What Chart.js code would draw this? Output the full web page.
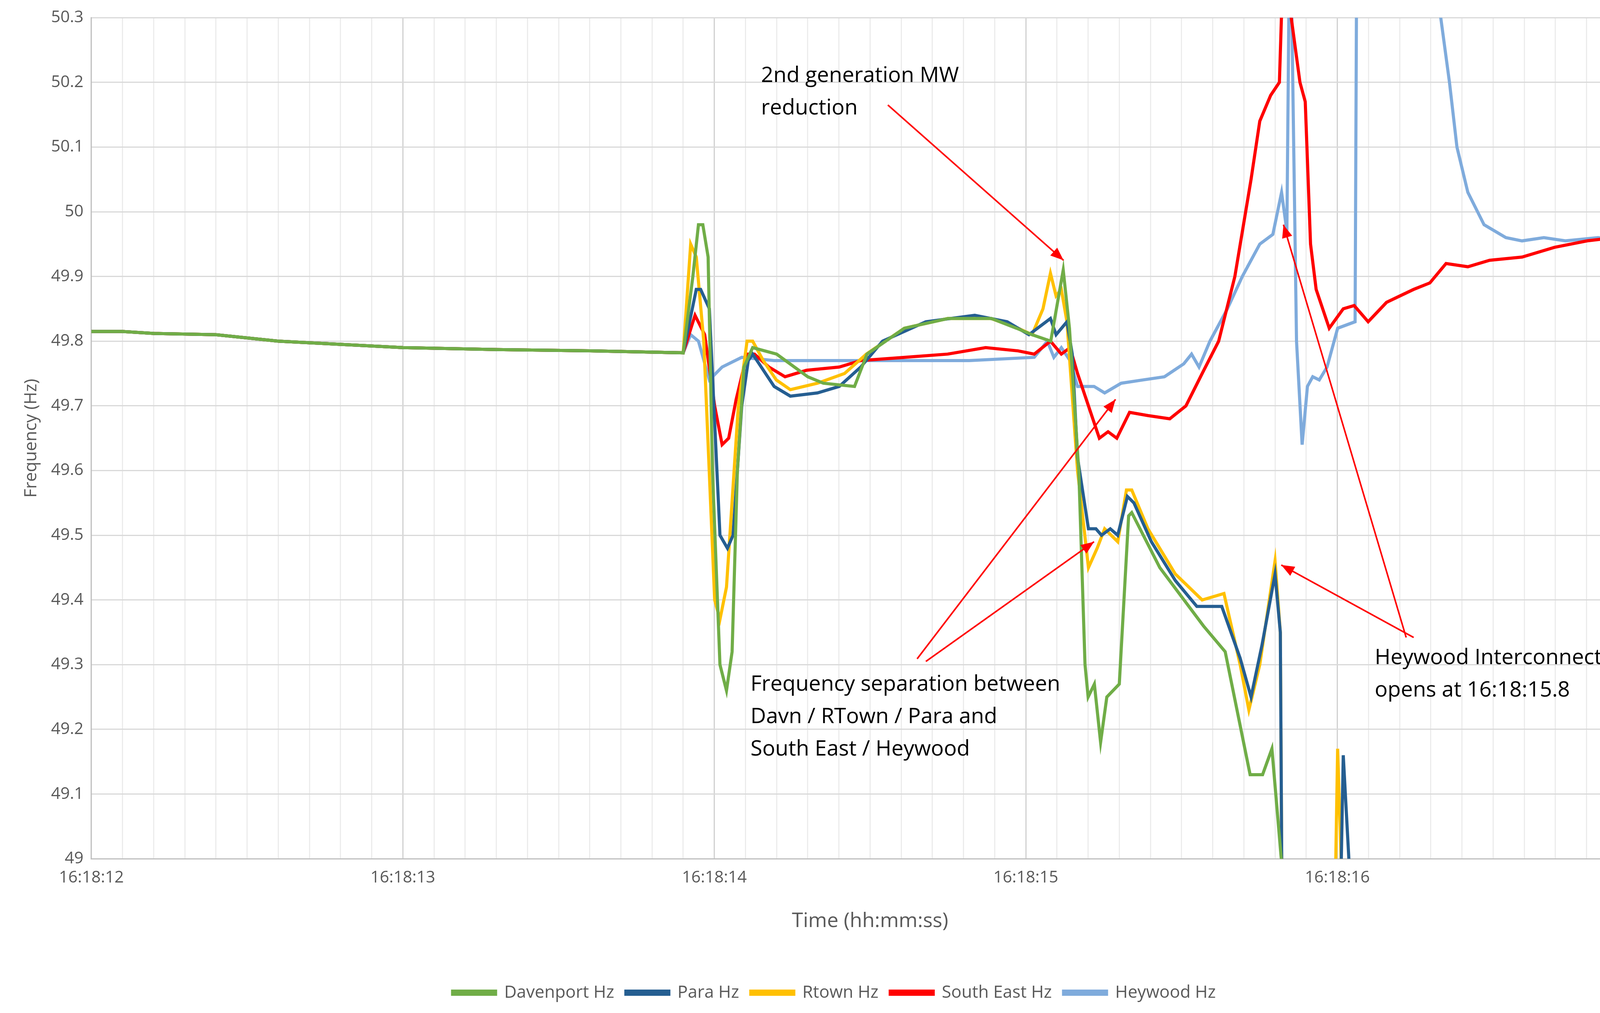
<!DOCTYPE html>
<html>
<head>
<meta charset="utf-8">
<script src="https://cdn.jsdelivr.net/npm/chart.js@4"></script>
<style>
  html, body { margin: 0; padding: 0; background: #fff; }
  canvas { display: block; }
</style>
</head>
<body>
<canvas id="freqChart" width="4331" height="2593"></canvas>
<script>
// time = seconds after 16:18:12, value = Hz
const leadT = [0, 0.1, 0.2, 0.4, 0.6, 0.8, 1.0, 1.3, 1.6, 1.9];
const leadV = [49.815, 49.815, 49.812, 49.81, 49.80, 49.795, 49.79, 49.787, 49.785, 49.782];

const davenportT = [1.931, 1.949, 1.963, 1.980, 1.994, 2.018, 2.039, 2.057, 2.074, 2.095, 2.123, 2.2, 2.3, 2.35, 2.45, 2.49, 2.61, 2.75, 2.89, 2.97, 3.02, 3.08, 3.12, 3.14, 3.17, 3.19, 3.20, 3.22, 3.24, 3.26, 3.30, 3.33, 3.34, 3.43, 3.57, 3.64, 3.72, 3.76, 3.79, 3.82, 3.825];
const davenportV = [49.90, 49.98, 49.98, 49.93, 49.6, 49.3, 49.26, 49.32, 49.6, 49.76, 49.79, 49.78, 49.745, 49.735, 49.73, 49.78, 49.82, 49.835, 49.835, 49.82, 49.81, 49.80, 49.91, 49.82, 49.6, 49.3, 49.25, 49.27, 49.18, 49.25, 49.27, 49.53, 49.535, 49.45, 49.36, 49.32, 49.13, 49.13, 49.17, 49.0, 48.8];

const paraT = [1.942, 1.956, 1.984, 2.018, 2.042, 2.060, 2.088, 2.109, 2.123, 2.192, 2.244, 2.331, 2.401, 2.470, 2.540, 2.679, 2.836, 2.940, 3.010, 3.079, 3.097, 3.132, 3.149, 3.166, 3.201, 3.225, 3.243, 3.271, 3.295, 3.326, 3.347, 3.403, 3.480, 3.549, 3.629, 3.688, 3.723, 3.758, 3.800, 3.817, 3.824, null, 4.005, 4.019, 4.037, 4.043];
const paraV = [49.88, 49.88, 49.85, 49.5, 49.48, 49.5, 49.7, 49.77, 49.78, 49.73, 49.715, 49.72, 49.73, 49.76, 49.80, 49.83, 49.84, 49.83, 49.81, 49.835, 49.81, 49.83, 49.78, 49.62, 49.51, 49.51, 49.50, 49.51, 49.50, 49.56, 49.55, 49.49, 49.43, 49.39, 49.39, 49.31, 49.25, 49.33, 49.44, 49.35, 48.8, null, 48.8, 49.16, 49.0, 48.8];

const rtownT = [1.924, 1.942, 1.966, 2.001, 2.018, 2.039, 2.077, 2.105, 2.123, 2.157, 2.199, 2.244, 2.331, 2.418, 2.488, 2.610, 2.749, 2.888, 2.975, 3.020, 3.055, 3.079, 3.097, 3.114, 3.132, 3.166, 3.201, 3.229, 3.253, 3.295, 3.323, 3.340, 3.392, 3.480, 3.566, 3.636, 3.688, 3.716, 3.751, 3.800, 3.817, 3.824, null, 3.988, 4.001, 4.012, 4.019];
const rtownV = [49.95, 49.93, 49.8, 49.4, 49.37, 49.42, 49.7, 49.8, 49.80, 49.77, 49.74, 49.725, 49.735, 49.75, 49.78, 49.82, 49.835, 49.835, 49.82, 49.81, 49.85, 49.905, 49.87, 49.88, 49.83, 49.60, 49.45, 49.48, 49.51, 49.49, 49.57, 49.57, 49.51, 49.44, 49.40, 49.41, 49.30, 49.23, 49.30, 49.46, 49.35, 48.8, null, 48.8, 49.17, 49.0, 48.8];

const southEastT = [1.938, 1.969, 2.001, 2.025, 2.046, 2.070, 2.105, 2.129, 2.175, 2.227, 2.296, 2.401, 2.470, 2.610, 2.749, 2.871, 2.975, 3.027, 3.079, 3.114, 3.142, 3.166, 3.201, 3.236, 3.264, 3.292, 3.333, 3.392, 3.462, 3.514, 3.566, 3.619, 3.671, 3.723, 3.751, 3.786, 3.814, 3.827, 3.852, 3.880, 3.897, 3.914, 3.932, 3.974, 4.019, 4.054, 4.099, 4.158, 4.245, 4.297, 4.349, 4.419, 4.489, 4.593, 4.697, 4.802, 4.889, 4.941, 5.0];
const southEastV = [49.84, 49.81, 49.70, 49.64, 49.65, 49.71, 49.78, 49.78, 49.76, 49.745, 49.755, 49.76, 49.77, 49.775, 49.78, 49.79, 49.785, 49.78, 49.80, 49.78, 49.79, 49.75, 49.70, 49.65, 49.66, 49.65, 49.69, 49.685, 49.68, 49.70, 49.75, 49.80, 49.90, 50.05, 50.14, 50.18, 50.20, 50.40, 50.30, 50.20, 50.17, 49.95, 49.88, 49.82, 49.85, 49.855, 49.83, 49.86, 49.88, 49.89, 49.92, 49.915, 49.925, 49.93, 49.945, 49.955, 49.96, 49.95, 49.95];

const heywoodT = [1.924, 1.949, 1.984, 2.025, 2.088, 2.192, 2.470, 2.818, 3.027, 3.069, 3.090, 3.114, 3.142, 3.166, 3.219, 3.253, 3.306, 3.375, 3.445, 3.507, 3.532, 3.556, 3.591, 3.647, 3.695, 3.751, 3.793, 3.821, 3.838, 3.848, 3.869, 3.887, 3.904, 3.921, 3.942, 3.967, 4.001, 4.057, 4.064, 4.30, 4.332, 4.360, 4.384, 4.419, 4.471, 4.541, 4.593, 4.663, 4.732, 4.837, 4.941, 5.0];
const heywoodV = [49.81, 49.80, 49.74, 49.76, 49.775, 49.77, 49.77, 49.77, 49.775, 49.80, 49.775, 49.79, 49.77, 49.73, 49.73, 49.72, 49.735, 49.74, 49.745, 49.765, 49.78, 49.76, 49.80, 49.85, 49.90, 49.95, 49.965, 50.03, 49.97, 50.5, 49.80, 49.64, 49.73, 49.745, 49.74, 49.76, 49.82, 49.83, 50.6, 50.6, 50.3, 50.2, 50.1, 50.03, 49.98, 49.96, 49.955, 49.96, 49.955, 49.96, 49.955, 49.955];

const xTickLabels = ['16:18:12', '16:18:13', '16:18:14', '16:18:15', '16:18:16', '16:18:17'];

// annotations: [t, Hz]
const notes = [
  { lines: ['2nd generation MW', 'reduction'], at: [2.15, 50.21] },
  { lines: ['Frequency separation between', 'Davn / RTown / Para and', 'South East / Heywood'], at: [2.116, 49.269] },
  { lines: ['Heywood Interconnector', 'opens at 16:18:15.8'], at: [4.12, 49.31] }
];
const arrows = [
  [[2.557, 50.165], [3.121, 49.925]],
  [[2.651, 49.309], [3.288, 49.71]],
  [[2.679, 49.305], [3.219, 49.49]],
  [[4.245, 49.342], [3.820, 49.454]],
  [[4.221, 49.342], [3.827, 49.98]]
];

function series(t, v) {
  const pts = leadT.map((x, i) => ({ x, y: leadV[i] }));
  t.forEach((x, i) => pts.push(x === null ? { x: (t[i - 1] + t[i + 1]) / 2, y: null } : { x, y: v[i] }));
  return pts;
}

const annotationPlugin = {
  id: 'notes',
  afterDatasetsDraw(chart) {
    const { ctx, scales: { x, y } } = chart;
    ctx.save();
    ctx.strokeStyle = '#ff0000';
    ctx.fillStyle = '#ff0000';
    ctx.lineWidth = 4;
    arrows.forEach(([a, b]) => {
      const x1 = x.getPixelForValue(a[0]), y1 = y.getPixelForValue(a[1]);
      const x2 = x.getPixelForValue(b[0]), y2 = y.getPixelForValue(b[1]);
      const ang = Math.atan2(y2 - y1, x2 - x1);
      ctx.beginPath(); ctx.moveTo(x1, y1); ctx.lineTo(x2, y2); ctx.stroke();
      ctx.beginPath();
      ctx.moveTo(x2, y2);
      ctx.lineTo(x2 - 36 * Math.cos(ang - 0.38), y2 - 36 * Math.sin(ang - 0.38));
      ctx.lineTo(x2 - 36 * Math.cos(ang + 0.38), y2 - 36 * Math.sin(ang + 0.38));
      ctx.closePath(); ctx.fill();
    });
    ctx.fillStyle = '#000';
    ctx.font = '55px "Open Sans"';
    ctx.textBaseline = 'middle';
    notes.forEach(n => {
      const px = x.getPixelForValue(n.at[0]);
      let py = y.getPixelForValue(n.at[1]);
      n.lines.forEach(line => { ctx.fillText(line, px, py); py += 83; });
    });
    ctx.restore();
  }
};

const line = (label, color, t, v) => ({
  label, data: series(t, v), borderColor: color, backgroundColor: color,
  borderWidth: 8, pointRadius: 0, tension: 0, spanGaps: false
});

new Chart(document.getElementById('freqChart'), {
  type: 'line',
  data: {
    datasets: [
      line('Davenport Hz', '#70ad47', davenportT, davenportV),
      line('Para Hz', '#255e91', paraT, paraV),
      line('Rtown Hz', '#ffc000', rtownT, rtownV),
      line('South East Hz', '#ff0000', southEastT, southEastV),
      line('Heywood Hz', '#7fabdc', heywoodT, heywoodV)
    ]
  },
  options: {
    responsive: false,
    devicePixelRatio: 1,
    animation: false,
    layout: { padding: { top: 40, right: 110, left: 50, bottom: 20 } },
    plugins: {
      legend: {
        position: 'bottom',
        labels: { font: { size: 44, family: 'Open Sans' }, color: '#595959', boxWidth: 110, boxHeight: 8, padding: 30 }
      },
      tooltip: { enabled: false }
    },
    scales: {
      x: {
        type: 'linear', min: 0, max: 5,
        title: { display: true, text: 'Time (hh:mm:ss)', font: { size: 52, family: 'Open Sans' }, color: '#595959', padding: { top: 30, bottom: 100 } },
        ticks: {
          stepSize: 0.1, autoSkip: false, maxRotation: 0, padding: 24, color: '#595959', font: { size: 42, family: 'Open Sans' },
          callback: v => Math.abs(v - Math.round(v)) < 1e-6 ? xTickLabels[Math.round(v)] : ''
        },
        grid: {
          color: c => Math.abs(c.tick.value - Math.round(c.tick.value)) < 1e-6 ? '#d0d0d0' : '#ececec',
          lineWidth: 3, drawTicks: false
        },
        border: { color: '#bfbfbf', width: 3 }
      },
      y: {
        min: 49, max: 50.3,
        title: { display: true, text: 'Frequency (Hz)', font: { size: 44, family: 'Open Sans' }, color: '#595959' },
        ticks: {
          stepSize: 0.1, color: '#595959', font: { size: 42, family: 'Open Sans' }, padding: 20,
          callback: v => String(Math.round(v * 10) / 10)
        },
        grid: { color: '#d9d9d9', lineWidth: 3, drawTicks: false },
        border: { color: '#bfbfbf', width: 3 }
      }
    }
  },
  plugins: [annotationPlugin]
});
</script>
</body>
</html>
